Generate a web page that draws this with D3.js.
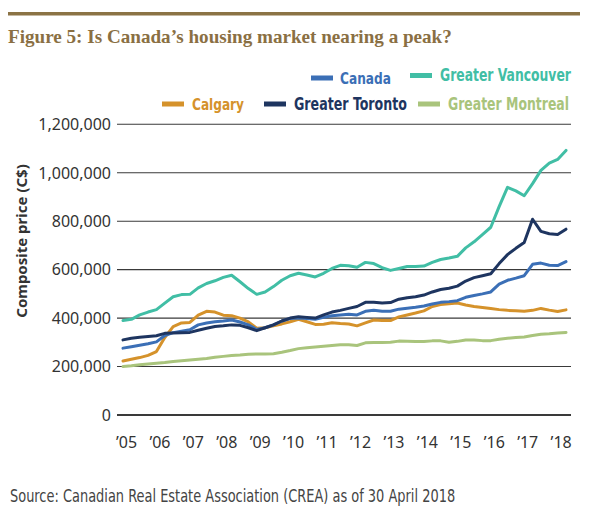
<!DOCTYPE html>
<html lang="en">
<head>
  <meta charset="UTF-8" />
  <title>Figure 5: Is Canada’s housing market nearing a peak?</title>
  <script src="https://d3js.org/d3.v7.min.js"></script>
  <style>
    body { margin: 0; background: #fff; }
    svg { display: block; }
    .title { font-family: "Liberation Serif", serif; font-weight: bold; font-size: 21px; fill: #8a6f43; }
    .legend text { font-family: "DejaVu Sans Condensed", "Noto Sans", sans-serif; font-weight: bold; font-size: 15px; }
    .tick-label { font-family: "Noto Sans", sans-serif; font-size: 16px; fill: #333; }
    .axis-title { font-family: "Noto Sans", sans-serif; font-weight: bold; font-size: 15px; fill: #333; }
    .source { font-family: "DejaVu Sans Condensed", "Noto Sans", sans-serif; font-size: 15px; fill: #444; }
    .series { fill: none; stroke-width: 3px; stroke-linejoin: round; stroke-linecap: round; }
  </style>
</head>
<body>
  <svg id="chart"></svg>
  <script>
    // quarterly samples, Jan 2005 .. Apr 2018 (decimal years)
    const quarters = d3.range(0, 54).map(i => 2005 + i * 0.25);

    // composite price, thousands of C$
    const canada = [
      276, 282, 288, 294, 302, 328, 340, 346, 352, 372, 380, 385, 388, 392, 384, 372,
      353, 360, 372, 388, 398, 400, 398, 395, 403, 410, 413, 416, 413, 428, 432, 428,
      428, 437, 441, 445, 450, 458, 465, 468, 472, 486, 493, 500, 508, 540, 556, 565,
      575, 622, 627, 618, 617, 633
    ];
    const vancouver = [
      390, 395, 413, 425, 435, 462, 488, 497, 498, 525, 543, 554, 568, 577, 550, 522,
      498, 508, 530, 556, 575, 585, 578, 570, 585, 605, 618, 616, 610, 630, 625, 608,
      597, 605, 613, 613, 615, 630, 642, 648, 655, 690, 715, 745, 775, 860, 940, 925,
      905, 955, 1010, 1040, 1055, 1092
    ];
    const calgary = [
      223, 230, 237, 246, 262, 320, 365, 380, 382, 412, 428, 425, 412, 410, 400, 384,
      358, 360, 368, 376, 385, 395, 385, 374, 375, 381, 378, 376, 368, 380, 392, 390,
      390, 405, 413, 421, 430, 448, 456, 459, 462, 454, 448, 444, 440, 435, 432, 430,
      428, 432, 440, 433, 427, 434
    ];
    const toronto = [
      310, 317, 321, 324, 327, 337, 339, 340, 341, 350, 358, 365, 368, 372, 370, 360,
      348, 360, 372, 388, 400, 406, 403, 400, 413, 425, 432, 440, 448, 465, 465, 462,
      464, 478, 484, 488, 495, 508, 518, 523, 532, 553, 567, 575, 583, 625, 662, 688,
      712, 808, 758, 748, 745, 767
    ];
    const montreal = [
      200, 203, 207, 211, 214, 217, 221, 224, 227, 230, 233, 238, 242, 246, 248, 251,
      252, 252, 253, 259, 266, 274, 278, 281, 284, 287, 290, 290, 287, 298, 299, 299,
      300, 305, 304, 303, 303, 306, 306, 300, 304, 310, 310, 307, 307, 313, 317, 320,
      322, 328, 333, 335, 338, 341
    ];

    const seriesNames  = ["Canada", "Greater Vancouver", "Calgary", "Greater Toronto", "Greater Montreal"];
    const seriesValues = [canada, vancouver, calgary, toronto, montreal];
    const seriesColors = ["#3b6fb6", "#41bea5", "#d5922b", "#1e3560", "#a9c47c"];

    const yTicks = [0, 200000, 400000, 600000, 800000, 1000000, 1200000];
    const xYears = d3.range(2005, 2019);
    const xTickLabels = xYears.map(y => "’" + String(y).slice(2));

    const W = 589, H = 512;
    const svg = d3.select("#chart").attr("width", W).attr("height", H);

    // shrink/grow font size so the text spans the wanted width
    function fitWidth(sel, w) {
      const node = sel.node();
      const fs = parseFloat(getComputedStyle(node).fontSize);
      const len = node.getComputedTextLength();
      if (len > 0) sel.style("font-size", (fs * w / len).toFixed(2) + "px");
      return sel;
    }

    // top rule + title
    svg.append("rect").attr("x", 8).attr("y", 12).attr("width", 572).attr("height", 3.5).attr("fill", "#8b7345");
    const title = svg.append("text").attr("class", "title")
       .attr("x", 8).attr("y", 43)
       .text("Figure 5: Is Canada’s housing market nearing a peak?");
    fitWidth(title, 444);

    // scales
    const x = d3.scaleLinear().domain([2005, 2018.25]).range([123, 566]);
    const y = d3.scaleLinear().domain([0, 1200000]).range([415, 124.3]);
    const gridL = 117, gridR = 571;

    // grid lines
    svg.append("g").selectAll("line").data(yTicks).join("line")
       .attr("x1", gridL).attr("x2", gridR)
       .attr("y1", d => y(d)).attr("y2", d => y(d))
       .attr("stroke", "#3a3a3a")
       .attr("stroke-width", d => d === 0 ? 2.2 : 1.1);

    // y labels
    svg.append("g").selectAll("text").data(yTicks).join("text")
       .attr("class", "tick-label")
       .attr("x", 111).attr("y", d => y(d)).attr("dy", "0.36em")
       .attr("text-anchor", "end")
       .text(d3.format(","));

    // x labels
    svg.append("g").selectAll("text").data(xYears).join("text")
       .attr("class", "tick-label")
       .attr("x", d => x(d) + 3.5).attr("y", 448)
       .attr("text-anchor", "middle")
       .text((d, i) => xTickLabels[i]);

    // axis title
    svg.append("text").attr("class", "axis-title")
       .attr("transform", "translate(27,241) rotate(-90)")
       .attr("text-anchor", "middle")
       .text("Composite price (C$)");

    // series lines
    const line = d3.line()
      .x((d, i) => x(quarters[i]))
      .y(d => y(d * 1000));

    const drawOrder = [4, 2, 0, 3, 1]; // Montreal, Calgary, Canada, Toronto, Vancouver
    drawOrder.forEach(k => {
      svg.append("path")
         .datum(seriesValues[k])
         .attr("class", "series")
         .attr("stroke", seriesColors[k])
         .attr("d", line);
    });

    // legend (condensed look: fit width, then stretch a bit vertically)
    const legendPos = [
      { sx: 311, sy: 78,   tx: 340, w: 51 },
      { sx: 410, sy: 75.5, tx: 440, w: 131 },
      { sx: 162, sy: 104,  tx: 192, w: 52 },
      { sx: 264, sy: 104,  tx: 294, w: 113 },
      { sx: 418, sy: 104,  tx: 448, w: 121 }
    ];
    const legend = svg.append("g").attr("class", "legend");
    seriesNames.forEach((name, k) => {
      const p = legendPos[k];
      legend.append("rect")
            .attr("x", p.sx).attr("y", p.sy - 2.5)
            .attr("width", 22).attr("height", 5)
            .attr("fill", seriesColors[k]);
      const t = legend.append("text")
            .attr("transform", `translate(${p.tx},${p.sy + 5.5}) scale(1,1.22)`)
            .attr("fill", seriesColors[k])
            .text(name);
      fitWidth(t, p.w);
    });

    // source
    const source = svg.append("text").attr("class", "source")
       .attr("transform", "translate(10,502) scale(1,1.2)")
       .text("Source: Canadian Real Estate Association (CREA) as of 30 April 2018");
    fitWidth(source, 445);
  </script>
</body>
</html>
